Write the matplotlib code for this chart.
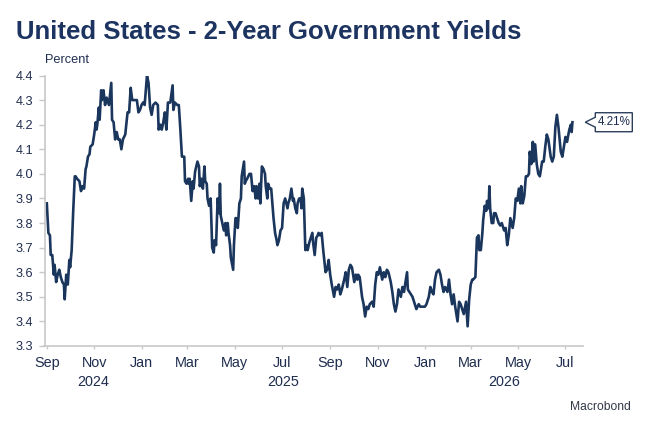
import matplotlib
matplotlib.use("Agg")
import matplotlib.pyplot as plt
import matplotlib.transforms as mtransforms
from matplotlib.patches import Polygon
import pandas as pd
import numpy as np

# ---------------- data ----------------
start_date = "2024-09-01"
# day offsets from start_date
days = [
    0, 2, 4, 5, 7, 9, 10, 12, 14, 16, 18, 20, 22, 23, 25, 27, 29, 30, 32, 34,
    36, 37, 39, 42, 44, 46, 48, 50, 51, 53, 55, 56, 59, 61, 63, 64, 65, 67, 68, 70,
    71, 73, 75, 77, 80, 83, 84, 86, 88, 90, 92, 94, 96, 98, 101, 104, 106, 108, 110, 111,
    114, 116, 118, 120, 122, 124, 126, 129, 131, 133, 135, 137, 140, 143, 144, 146, 148, 150, 152, 154,
    156, 159, 162, 163, 165, 168, 170, 172, 174, 177, 178, 180, 182, 183, 184, 186, 188, 189, 191, 194,
    196, 197, 199, 201, 203, 204, 206, 207, 209, 211, 213, 215, 216, 218, 220, 222, 223, 224, 226, 228,
    230, 231, 233, 234, 236, 237, 240, 241, 243, 244, 246, 248, 250, 251, 254, 255, 256, 258, 261, 263,
    265, 267, 269, 270, 272, 274, 275, 277, 279, 281, 282, 284, 285, 287, 289, 290, 292, 294, 296, 297,
    299, 301, 303, 305, 307, 310, 311, 313, 315, 317, 318, 320, 322, 323, 325, 327, 328, 329, 331, 333,
    335, 336, 338, 340, 342, 343, 345, 347, 349, 350, 352, 354, 356, 359, 361, 363, 365, 367, 370, 372,
    374, 376, 378, 380, 383, 385, 387, 389, 391, 393, 396, 398, 400, 401, 403, 406, 408, 410, 412, 414,
    416, 419, 421, 423, 425, 427, 429, 432, 434, 436, 438, 440, 443, 445, 447, 449, 451, 453, 456, 458,
    460, 462, 464, 465, 467, 469, 471, 473, 474, 476, 479, 481, 483, 485, 487, 489, 492, 494, 496, 498,
    500, 502, 505, 507, 509, 511, 513, 516, 518, 520, 522, 524, 526, 529, 531, 533, 535, 537, 540, 542,
    544, 546, 548, 549, 552, 554, 556, 557, 559, 561, 562, 564, 566, 567, 569, 570, 571, 573, 575, 576,
    578, 580, 582, 584, 586, 589, 591, 593, 595, 597, 600, 602, 604, 606, 608, 610, 611, 613, 615, 617,
    619, 621, 622, 624, 626, 627, 629, 631, 633, 635, 638, 640, 642, 644, 646, 649, 651, 653, 655, 657,
    659, 662, 664, 666, 668, 670, 673, 675, 676, 677,
]
yields = [
    3.88, 3.76, 3.75, 3.67, 3.67, 3.59, 3.63, 3.56, 3.59, 3.61, 3.58, 3.56, 3.55, 3.49, 3.59, 3.55, 3.65, 3.62, 3.69, 3.85,
    3.99, 3.99, 3.98, 3.97, 3.93, 3.95, 3.94, 4.02, 4.03, 4.07, 4.08, 4.11, 4.12, 4.16, 4.21, 4.18, 4.20, 4.27, 4.22, 4.34,
    4.30, 4.34, 4.28, 4.31, 4.28, 4.37, 4.22, 4.21, 4.14, 4.17, 4.14, 4.14, 4.10, 4.14, 4.16, 4.25, 4.25, 4.35, 4.30, 4.30,
    4.30, 4.30, 4.25, 4.26, 4.28, 4.29, 4.28, 4.40, 4.37, 4.27, 4.24, 4.28, 4.29, 4.28, 4.18, 4.20, 4.18, 4.21, 4.25, 4.18,
    4.29, 4.29, 4.36, 4.26, 4.29, 4.28, 4.28, 4.18, 4.07, 4.07, 3.97, 3.96, 3.98, 3.96, 3.98, 3.89, 3.97, 3.94, 4.01, 4.05,
    4.03, 3.95, 3.98, 3.94, 4.03, 3.97, 3.96, 3.90, 3.87, 3.90, 3.70, 3.68, 3.73, 3.71, 3.90, 3.84, 3.96, 3.83, 3.80, 3.77,
    3.80, 3.75, 3.80, 3.76, 3.71, 3.66, 3.61, 3.71, 3.82, 3.82, 3.78, 3.88, 3.90, 3.99, 4.05, 3.96, 3.97, 3.98, 4.00, 4.00,
    3.93, 3.95, 3.90, 3.95, 3.90, 3.96, 3.88, 4.03, 4.02, 4.00, 3.95, 3.90, 3.96, 3.94, 3.94, 3.90, 3.82, 3.76, 3.73, 3.71,
    3.73, 3.77, 3.78, 3.88, 3.90, 3.86, 3.88, 3.90, 3.94, 3.89, 3.90, 3.86, 3.84, 3.88, 3.90, 3.90, 3.86, 3.94, 3.90, 3.69,
    3.71, 3.69, 3.72, 3.74, 3.76, 3.72, 3.67, 3.74, 3.75, 3.76, 3.75, 3.76, 3.69, 3.60, 3.61, 3.65, 3.59, 3.55, 3.50, 3.54,
    3.53, 3.55, 3.51, 3.53, 3.57, 3.60, 3.54, 3.61, 3.63, 3.62, 3.56, 3.59, 3.57, 3.59, 3.58, 3.50, 3.47, 3.42, 3.46, 3.45,
    3.47, 3.48, 3.46, 3.55, 3.60, 3.59, 3.62, 3.57, 3.60, 3.58, 3.61, 3.60, 3.56, 3.52, 3.47, 3.44, 3.47, 3.53, 3.50, 3.54,
    3.52, 3.56, 3.60, 3.53, 3.52, 3.51, 3.50, 3.48, 3.47, 3.45, 3.47, 3.46, 3.46, 3.46, 3.46, 3.47, 3.50, 3.54, 3.52, 3.51,
    3.57, 3.60, 3.61, 3.59, 3.55, 3.52, 3.54, 3.52, 3.57, 3.51, 3.47, 3.51, 3.46, 3.40, 3.48, 3.47, 3.45, 3.43, 3.48, 3.38,
    3.49, 3.55, 3.57, 3.57, 3.58, 3.74, 3.75, 3.69, 3.69, 3.76, 3.81, 3.87, 3.85, 3.89, 3.86, 3.95, 3.86, 3.80, 3.80, 3.84,
    3.84, 3.82, 3.80, 3.79, 3.80, 3.77, 3.78, 3.71, 3.75, 3.82, 3.78, 3.82, 3.90, 3.89, 3.94, 3.88, 3.95, 3.88, 3.91, 3.99,
    3.99, 4.00, 4.09, 4.04, 4.13, 4.05, 4.12, 4.04, 4.00, 3.99, 4.05, 4.05, 4.11, 4.16, 4.14, 4.07, 4.05, 4.07, 4.19, 4.24,
    4.19, 4.09, 4.07, 4.11, 4.15, 4.13, 4.18, 4.20, 4.17, 4.21,
]
title = "United States - 2-Year Government Yields"
unit_label = "Percent"
source = "Macrobond"
tick_months = ["2024-09-01", "2024-11-01", "2025-01-01", "2025-03-01", "2025-05-01", "2025-07-01",
               "2025-09-01", "2025-11-01", "2026-01-01", "2026-03-01", "2026-05-01", "2026-07-01"]
month_labels = ["Sep", "Nov", "Jan", "Mar", "May", "Jul", "Sep", "Nov", "Jan", "Mar", "May", "Jul"]
years = [2024, 2025, 2026]
y_ticks = [3.3, 3.4, 3.5, 3.6, 3.7, 3.8, 3.9, 4.0, 4.1, 4.2, 4.3, 4.4]
x_range = ["2024-08-29", "2026-07-24"]

# ---------------- style ----------------
NAVY = "#1b365d"
TITLE_C = "#1d3461"
TEXT_C = "#1f2d4f"
GRID_C = "#c8c8c8"
plt.rcParams["font.family"] = ["Liberation Sans", "DejaVu Sans"]

dates = pd.Timestamp(start_date) + pd.to_timedelta(days, unit="D")

fig = plt.figure(figsize=(6.5, 4.34), dpi=100)
ax = fig.add_axes([44.5 / 650, 1 - 346 / 434, (583.3 - 44.5) / 650, (346 - 75.5) / 434])

ax.plot(dates, yields, color=NAVY, lw=1.9, solid_joinstyle="round")

xmin, xmax = pd.Timestamp(x_range[0]), pd.Timestamp(x_range[1])
ax.set_xlim(xmin, xmax)
ax.set_ylim(y_ticks[0], y_ticks[-1])

for s in ["top", "right"]:
    ax.spines[s].set_visible(False)
for s in ["left", "bottom"]:
    ax.spines[s].set_color(GRID_C)
    ax.spines[s].set_linewidth(1.2)

ax.set_yticks(y_ticks)
ax.set_yticklabels([f"{v:.1f}" for v in y_ticks])
ax.tick_params(axis="y", direction="out", length=4, width=1, color=GRID_C,
               labelsize=9.2, labelcolor=TEXT_C, pad=4)

ax.set_xticks(pd.to_datetime(tick_months))
ax.set_xticklabels(month_labels)
ax.tick_params(axis="x", direction="out", length=2.5, width=1, color=GRID_C,
               labelsize=10.4, labelcolor=TEXT_C, pad=4.5)

# year labels centred on visible part of each year
ytrans = mtransforms.blended_transform_factory(ax.transData, ax.transAxes)
for yr in years:
    a = max(pd.Timestamp(f"{yr}-01-01"), xmin)
    b = min(pd.Timestamp(f"{yr + 1}-01-01"), xmax)
    mid = a + (b - a) / 2
    ax.text(mid, -0.132, str(yr), transform=ytrans, ha="center", va="center",
            fontsize=10.4, color=TEXT_C)

# title, unit, source
fig.text(15.5 / 650, 1 - 39.3 / 434, title, fontsize=18.5, fontweight="bold",
         color=TITLE_C, ha="left", va="baseline")
fig.text(45 / 650, 1 - 63.3 / 434, unit_label, fontsize=9.2, color=TEXT_C,
         ha="left", va="baseline")
fig.text(631 / 650, 1 - 406.7 / 434, source, fontsize=8.7, color="#333a48",
         ha="right", va="center")

# last value tag
last_val = yields[-1]
anchor = mtransforms.ScaledTranslation(1.0, last_val, ax.get_yaxis_transform())
tag_tr = mtransforms.Affine2D() + anchor
verts = [(2, 0), (12, 5), (12, 9.5), (49, 9.5), (49, -9.5), (12, -9.5), (12, -5)]
poly = Polygon(verts, closed=True, transform=tag_tr, facecolor="white",
               edgecolor="#2c3e5c", lw=1.0, clip_on=False, zorder=5)
ax.add_patch(poly)
ax.text(30.5, 0, f"{last_val:.2f}%", transform=tag_tr, ha="center", va="center",
        fontsize=8.4, color=TEXT_C, zorder=6, clip_on=False)

fig.savefig("out.png", dpi=100)
